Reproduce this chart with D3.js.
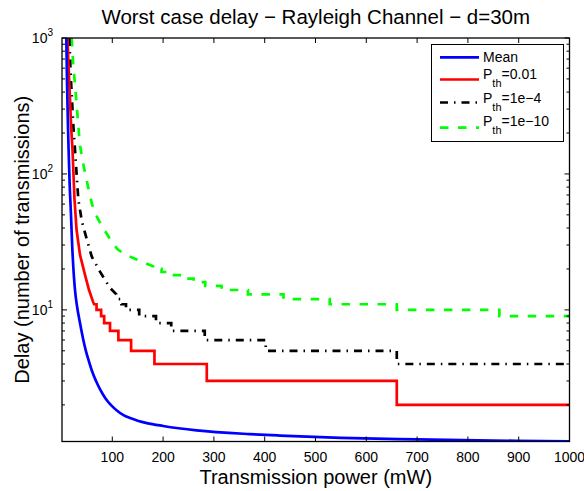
<!DOCTYPE html>
<html>
<head>
<meta charset="utf-8">
<script src="https://cdn.jsdelivr.net/npm/d3@7"></script>
<style>
  body { margin: 0; background: #fff; }
  svg { display: block; font-family: "Liberation Sans", Arial, Helvetica, sans-serif; }
</style>
</head>
<body>
<div id="chart"></div>
<script>
// values
const xTicks = [100, 200, 300, 400, 500, 600, 700, 800, 900, 1000];
const yTickExps = [1, 2, 3];

const meanPower = [9.5, 11, 12.5, 14, 16, 18.5, 21, 24.5, 27, 30, 37, 43, 48, 53, 60, 68, 76, 86, 97, 109, 122, 135, 150, 168, 200, 266, 370, 430, 550, 700, 850, 1000];
const meanDelay = [1000, 450, 250, 150, 85, 52, 30, 17.5, 13.5, 11, 7.8, 6, 5, 4.3, 3.55, 3.0, 2.6, 2.25, 2.0, 1.82, 1.68, 1.6, 1.53, 1.47, 1.4, 1.3, 1.22, 1.19, 1.145, 1.115, 1.094, 1.077];

// P_th = 0.01 : smooth part then integer steps (level holds from power[i] to power[i+1])
const p01Power = [11.8, 14, 16.8, 19, 21.7, 25.6, 29.6, 36.4, 46.3, 54.2, 62];
const p01Delay = [1000, 600, 350, 220, 150, 65, 39, 25.4, 18.1, 14, 11.5];
const p01StepPower = [64, 69, 78, 84, 95.5, 112, 137, 183, 286, 660, 1000];
const p01StepDelay = [11, 10, 9, 8, 7, 6, 5, 4, 3, 2, 2];

// P_th = 1e-4
const p4Power = [15.4, 18, 20.7, 23.5, 26.6, 33.1, 40, 46.3, 59.5, 75.8, 95.5, 108];
const p4Delay = [1000, 550, 350, 220, 150, 65, 45, 36.8, 24.7, 19.1, 14.5, 13];
const p4StepPower = [110, 118, 127, 153, 186, 216, 282, 402, 660, 1000];
const p4StepDelay = [12, 11, 10, 9, 8, 7, 6, 5, 4, 4];

// P_th = 1e-10
const p10Power = [20, 23, 30, 36, 43, 50, 60, 70, 82, 96, 110, 125, 148, 165, 180];
const p10Delay = [1000, 650, 320, 165, 118, 88, 60, 48, 40, 33, 28, 25.5, 23.5, 22, 21];
const p10StepPower = [180, 197, 218, 240, 260, 283, 315, 367, 437, 528, 660, 862, 1000];
const p10StepDelay = [20, 19, 18, 17, 16, 15, 14, 13, 12, 11, 10, 9, 9];

const W = 584, H = 491;
const margin = { top: 38, right: 14.5, bottom: 49.5, left: 62 };
const iw = W - margin.left - margin.right;
const ih = H - margin.top - margin.bottom;

const svg = d3.select('#chart').append('svg')
  .attr('width', W).attr('height', H);

const x = d3.scaleLinear().domain([1, 1000]).range([margin.left, margin.left + iw]);
const y = d3.scaleLog().domain([1.076, 1000]).range([margin.top + ih, margin.top]);

function buildPoints(power, delay, stepPower, stepDelay) {
  const pts = power.map((p, i) => [p, delay[i]]);
  if (stepPower) {
    stepPower.forEach((p, i) => {
      if (i > 0) pts.push([p, stepDelay[i - 1]]);
      pts.push([p, stepDelay[i]]);
    });
  }
  return pts;
}

const series = [
  { label: 'Mean', pts: buildPoints(meanPower, meanDelay), color: '#0000ff', dash: null, curve: d3.curveMonotoneX },
  { label: '0.01', pts: buildPoints(p01Power, p01Delay, p01StepPower, p01StepDelay), color: '#ff0000', dash: null },
  { label: '1e\u22124', pts: buildPoints(p4Power, p4Delay, p4StepPower, p4StepDelay), color: '#000000', dash: '8,6,1.5,6' },
  { label: '1e\u221210', pts: buildPoints(p10Power, p10Delay, p10StepPower, p10StepDelay), color: '#00ff00', dash: '8.5,9.5' },
];

svg.append('clipPath').attr('id', 'clip')
  .append('rect').attr('x', margin.left).attr('y', margin.top).attr('width', iw).attr('height', ih);

const plot = svg.append('g').attr('clip-path', 'url(#clip)');
// draw back to front so blue ends on top like the reference
series.slice().reverse().forEach(s => {
  const line = d3.line().x(d => x(d[0])).y(d => y(d[1])).curve(s.curve || d3.curveLinear);
  plot.append('path')
    .attr('d', line(s.pts))
    .attr('fill', 'none')
    .attr('stroke', s.color)
    .attr('stroke-width', 2.7)
    .attr('stroke-dasharray', s.dash);
});

// ticks (inward, on all four sides)
const tk = svg.append('g').attr('stroke', '#000').attr('stroke-width', 1);
const x0 = margin.left, x1 = margin.left + iw, y0 = margin.top, y1 = margin.top + ih;
xTicks.forEach(t => {
  tk.append('line').attr('x1', x(t)).attr('x2', x(t)).attr('y1', y1).attr('y2', y1 - 5);
  tk.append('line').attr('x1', x(t)).attr('x2', x(t)).attr('y1', y0).attr('y2', y0 + 5);
});
const minorY = [];
[1, 10, 100].forEach(b => d3.range(2, 10).forEach(m => { if (b * m > 1.076) minorY.push(b * m); }));
minorY.forEach(t => {
  tk.append('line').attr('x1', x0).attr('x2', x0 + 3).attr('y1', y(t)).attr('y2', y(t));
  tk.append('line').attr('x1', x1).attr('x2', x1 - 3).attr('y1', y(t)).attr('y2', y(t));
});
yTickExps.forEach(e => {
  const v = Math.pow(10, e);
  tk.append('line').attr('x1', x0).attr('x2', x0 + 5).attr('y1', y(v)).attr('y2', y(v));
  tk.append('line').attr('x1', x1).attr('x2', x1 - 5).attr('y1', y(v)).attr('y2', y(v));
});

// box
svg.append('rect')
  .attr('x', x0).attr('y', y0).attr('width', iw).attr('height', ih)
  .attr('fill', 'none').attr('stroke', '#000').attr('stroke-width', 1.3);

// tick labels
svg.append('g').selectAll('text').data(xTicks).join('text')
  .attr('x', d => x(d)).attr('y', y1 + 20.5)
  .attr('text-anchor', 'middle').attr('font-size', 14).attr('fill', '#000')
  .text(d => d);

const yl = svg.append('g').selectAll('text').data(yTickExps).join('text')
  .attr('x', x0 - 9).attr('y', d => y(Math.pow(10, d)) + 5)
  .attr('text-anchor', 'end').attr('font-size', 14).attr('fill', '#000');
yl.append('tspan').text('10');
yl.append('tspan').attr('dy', -7).attr('font-size', 10).text(d => d);

// titles
svg.append('text')
  .attr('x', (x0 + x1) / 2).attr('y', 24)
  .attr('text-anchor', 'middle').attr('font-size', 20.5)
  .text('Worst case delay \u2212 Rayleigh Channel \u2212 d=30m');

svg.append('text')
  .attr('x', (x0 + x1) / 2).attr('y', 484)
  .attr('text-anchor', 'middle').attr('font-size', 20)
  .text('Transmission power (mW)');

svg.append('text')
  .attr('transform', `translate(29,${(y0 + y1) / 2}) rotate(-90)`)
  .attr('text-anchor', 'middle').attr('font-size', 20)
  .text('Delay (number of transmissions)');

// legend
const lg = svg.append('g');
lg.append('rect')
  .attr('x', 431.5).attr('y', 44.5).attr('width', 132).attr('height', 97)
  .attr('fill', '#fff').attr('stroke', '#000').attr('stroke-width', 1);
const rows = [
  { lineY: 57.3, baseY: 62 },
  { lineY: 79.5, baseY: 78.5 },
  { lineY: 102.5, baseY: 103.3 },
  { lineY: 127.7, baseY: 126.3 },
];
series.forEach((s, i) => {
  const r = rows[i];
  lg.append('line')
    .attr('x1', 440).attr('x2', 479).attr('y1', r.lineY).attr('y2', r.lineY)
    .attr('stroke', s.color).attr('stroke-width', 2.7)
    .attr('stroke-dasharray', s.dash);
  const t = lg.append('text').attr('x', 483).attr('y', r.baseY).attr('font-size', 14);
  if (i === 0) {
    t.text(s.label);
  } else {
    t.append('tspan').text('P');
    t.append('tspan').attr('dy', 8).attr('font-size', 11).text('th');
    t.append('tspan').attr('dy', -8).text('=' + s.label);
  }
});
</script>
</body>
</html>
